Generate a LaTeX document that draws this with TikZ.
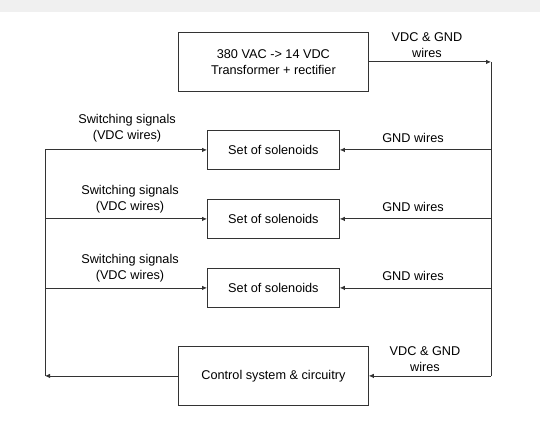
\documentclass[tikz,border=0pt]{standalone}
\usepackage{fontspec}
\setmainfont{Liberation Sans}
\usetikzlibrary{arrows.meta}
\begin{document}
\begin{tikzpicture}[x=1pt,y=-1pt,
  blk/.style={draw=black!80,line width=0.8pt,minimum height=0pt,inner sep=0pt,anchor=north west,font=\fontsize{12.7}{15.5}\selectfont,align=center},
  lbl/.style={font=\fontsize{12.7}{15.5}\selectfont,align=center,inner sep=0pt},
  wire/.style={draw=black!80,line width=0.8pt,-{Latex[length=5pt,width=4.5pt]}},
  plain/.style={draw=black!80,line width=0.8pt}]
\useasboundingbox (0,0) rectangle (540,430);
\fill[black!6] (0,0) rectangle (540,12);
% boxes
\node[blk,minimum width=190pt,minimum height=59pt] (tr) at (178,32) {380 VAC -> 14 VDC\\Transformer + rectifier};
\node[blk,minimum width=132pt,minimum height=39pt] (s1) at (207,130) {Set of solenoids};
\node[blk,minimum width=132pt,minimum height=39pt] (s2) at (207,199) {Set of solenoids};
\node[blk,minimum width=132pt,minimum height=39pt] (s3) at (207,268) {Set of solenoids};
\node[blk,minimum width=190pt,minimum height=59pt] (cs) at (178,346) {Control system \& circuitry};
% rails
\coordinate (L) at (45,0);
\coordinate (R) at (491,0);
\coordinate (rt) at (R |- tr.east);
\coordinate (rb) at (R |- cs.east);
\coordinate (lt) at (L |- s1.west);
\coordinate (lb) at (L |- cs.west);
\draw[wire] (tr.east) -- (rt);
\draw[plain] (rt) -- (rb);
\draw[wire] (rb) -- (cs.east);
\draw[wire] (cs.west) -- (lb);
\draw[plain] (lb) -- (lt);
\foreach \s in {s1,s2,s3}{
  \draw[wire] (L |- \s.west) -- (\s.west);
  \draw[wire] (R |- \s.east) -- (\s.east);
}
% labels
\node[lbl] (l1) at (427,45) {VDC \& GND\\wires};
\node[lbl] (l2) at (425,359) {VDC \& GND\\wires};
\node[lbl] (g1) at (413,138) {GND wires};
\node[lbl] (g2) at (413,207) {GND wires};
\node[lbl] (g3) at (413,276) {GND wires};
\node[lbl] (w1) at (127,128) {Switching signals\\(VDC wires)};
\node[lbl] (w2) at (130,199) {Switching signals\\(VDC wires)};
\node[lbl] (w3) at (130,268) {Switching signals\\(VDC wires)};
\end{tikzpicture}
\end{document}
